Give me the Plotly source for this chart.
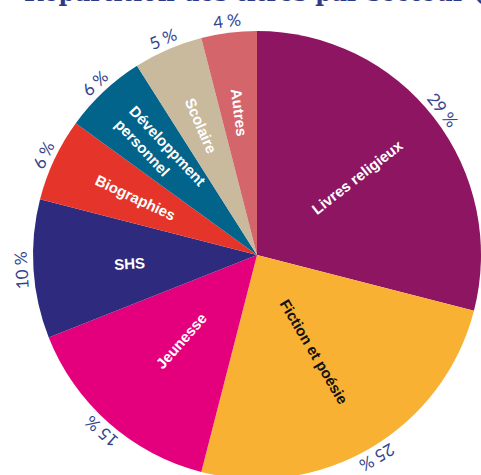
import math
import plotly.graph_objects as go

labels = ["Livres religieux", "Fiction et poésie", "Jeunesse", "SHS",
          "Biographies", "Développment<br>personnel", "Scolaire", "Autres"]
values = [29, 25, 15, 10, 6, 6, 5, 4]
title_text = "Répartition des titres par secteur (%)"

# styles
colors = ["#8E1561", "#F8B133", "#E4007D", "#2E2B7F",
          "#E5352B", "#02648A", "#C9B99D", "#D4666B"]
text_colors = ["white", "#111111", "white", "white", "white", "white", "white", "white"]
label_radius = [0.57, 0.50, 0.51, 0.57, 0.60, 0.63, 0.63, 0.64]  # fraction of pie radius

W, H = 481, 510
ML, MR, MT, MB = 33, 0, 30, 30
R = min(W - ML - MR, H - MT - MB) / 2

fig = go.Figure(go.Pie(
    labels=labels,
    values=values,
    sort=False,
    direction="clockwise",
    rotation=0,
    marker=dict(colors=colors, line=dict(width=0)),
    textinfo="none",
    hoverinfo="label+value",
    showlegend=False,
))

annotations = []
total = sum(values)
cum = 0
r_pct = R + 12
for lab, v, tc, rf in zip(labels, values, text_colors, label_radius):
    mid = (cum + v / 2) / total * 360
    cum += v
    th = math.radians(mid)
    # percentage label outside, tangential
    annotations.append(dict(
        xref="paper", yref="paper", x=0.5, y=0.5,
        xshift=r_pct * math.sin(th), yshift=r_pct * math.cos(th),
        text=f"{v} %", showarrow=False, textangle=mid if mid <= 180 else mid - 360,
        font=dict(family="Lato", size=17, color="#34448D"),
        xanchor="center", yanchor="middle",
    ))
    # category label inside, radial
    ang = mid - 90 if mid <= 180 else mid - 270
    rl = rf * R
    annotations.append(dict(
        xref="paper", yref="paper", x=0.5, y=0.5,
        xshift=rl * math.sin(th), yshift=rl * math.cos(th),
        text=lab, showarrow=False, textangle=ang, align="left",
        font=dict(family="Liberation Sans", size=15, weight="bold", color=tc),
        xanchor="center", yanchor="middle",
    ))

annotations.append(dict(
    xref="paper", yref="paper", x=0, y=1, xanchor="left", yanchor="bottom",
    xshift=22 - ML, yshift=21, showarrow=False, text=title_text,
    font=dict(family="DejaVu Serif", size=23.5, weight="bold", color="#2E3A87"),
))

fig.update_layout(
    width=W, height=H,
    margin=dict(l=ML, r=MR, t=MT, b=MB),
    paper_bgcolor="white",
    plot_bgcolor="white",
    annotations=annotations,
)

fig.write_html("out.html")
